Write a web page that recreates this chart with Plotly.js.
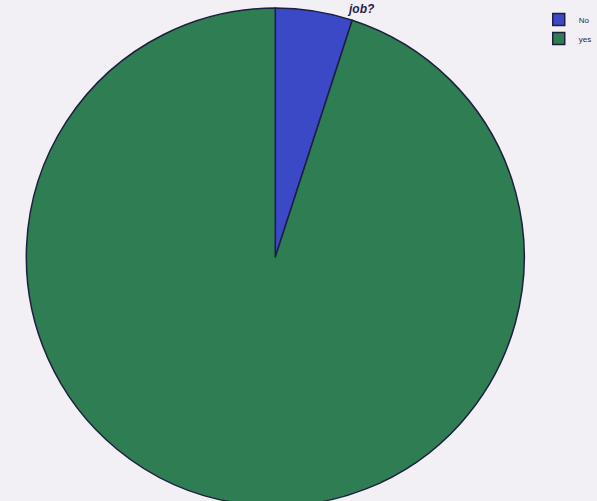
<!DOCTYPE html>
<html>
<head>
<meta charset="utf-8">
<script src="https://cdn.plot.ly/plotly-3.0.1.min.js"></script>
<style>html,body{margin:0;padding:0;background:#f2f0f5;overflow:hidden;}#chart{width:597px;height:506px;}</style>
</head>
<body>
<div id="chart"></div>
<script>
const categories = ["No", "yes"];
const values = [5.0, 95.0];
const sliceColors = ["#3b49c6", "#2f7d52"];
const titleText = "job?";

const data = [{
  type: "pie",
  labels: categories,
  values: values,
  sort: false,
  direction: "clockwise",
  rotation: 0,
  textinfo: "none",
  hoverinfo: "label+percent",
  marker: { colors: sliceColors, line: { color: "#1c1f3f", width: 1.5 } },
  domain: { x: [0, 0.93], y: [0, 0.984] }
}];

const layout = {
  width: 597, height: 506,
  margin: { l: 0, r: 0, t: 0, b: 0 },
  paper_bgcolor: "#f2f0f5",
  plot_bgcolor: "#f2f0f5",
  showlegend: true,
  legend: {
    x: 0.91, y: 0.99, xanchor: "left", yanchor: "top",
    font: { family: "Liberation Sans, Arial, sans-serif", size: 8, color: "#2a2850" },
    bgcolor: "rgba(0,0,0,0)",
    itemwidth: 30,
    tracegroupgap: 0
  },
  annotations: [{
    text: "<b><i>" + titleText + "</i></b>",
    xref: "paper", yref: "paper",
    x: 0.61, y: 1.0, xanchor: "center", yanchor: "top",
    showarrow: false,
    font: { family: "Liberation Sans, Arial, sans-serif", size: 12, color: "#2a2050" }
  }]
};

Plotly.newPlot("chart", data, layout, { displayModeBar: false, staticPlot: true });
</script>
</body>
</html>
